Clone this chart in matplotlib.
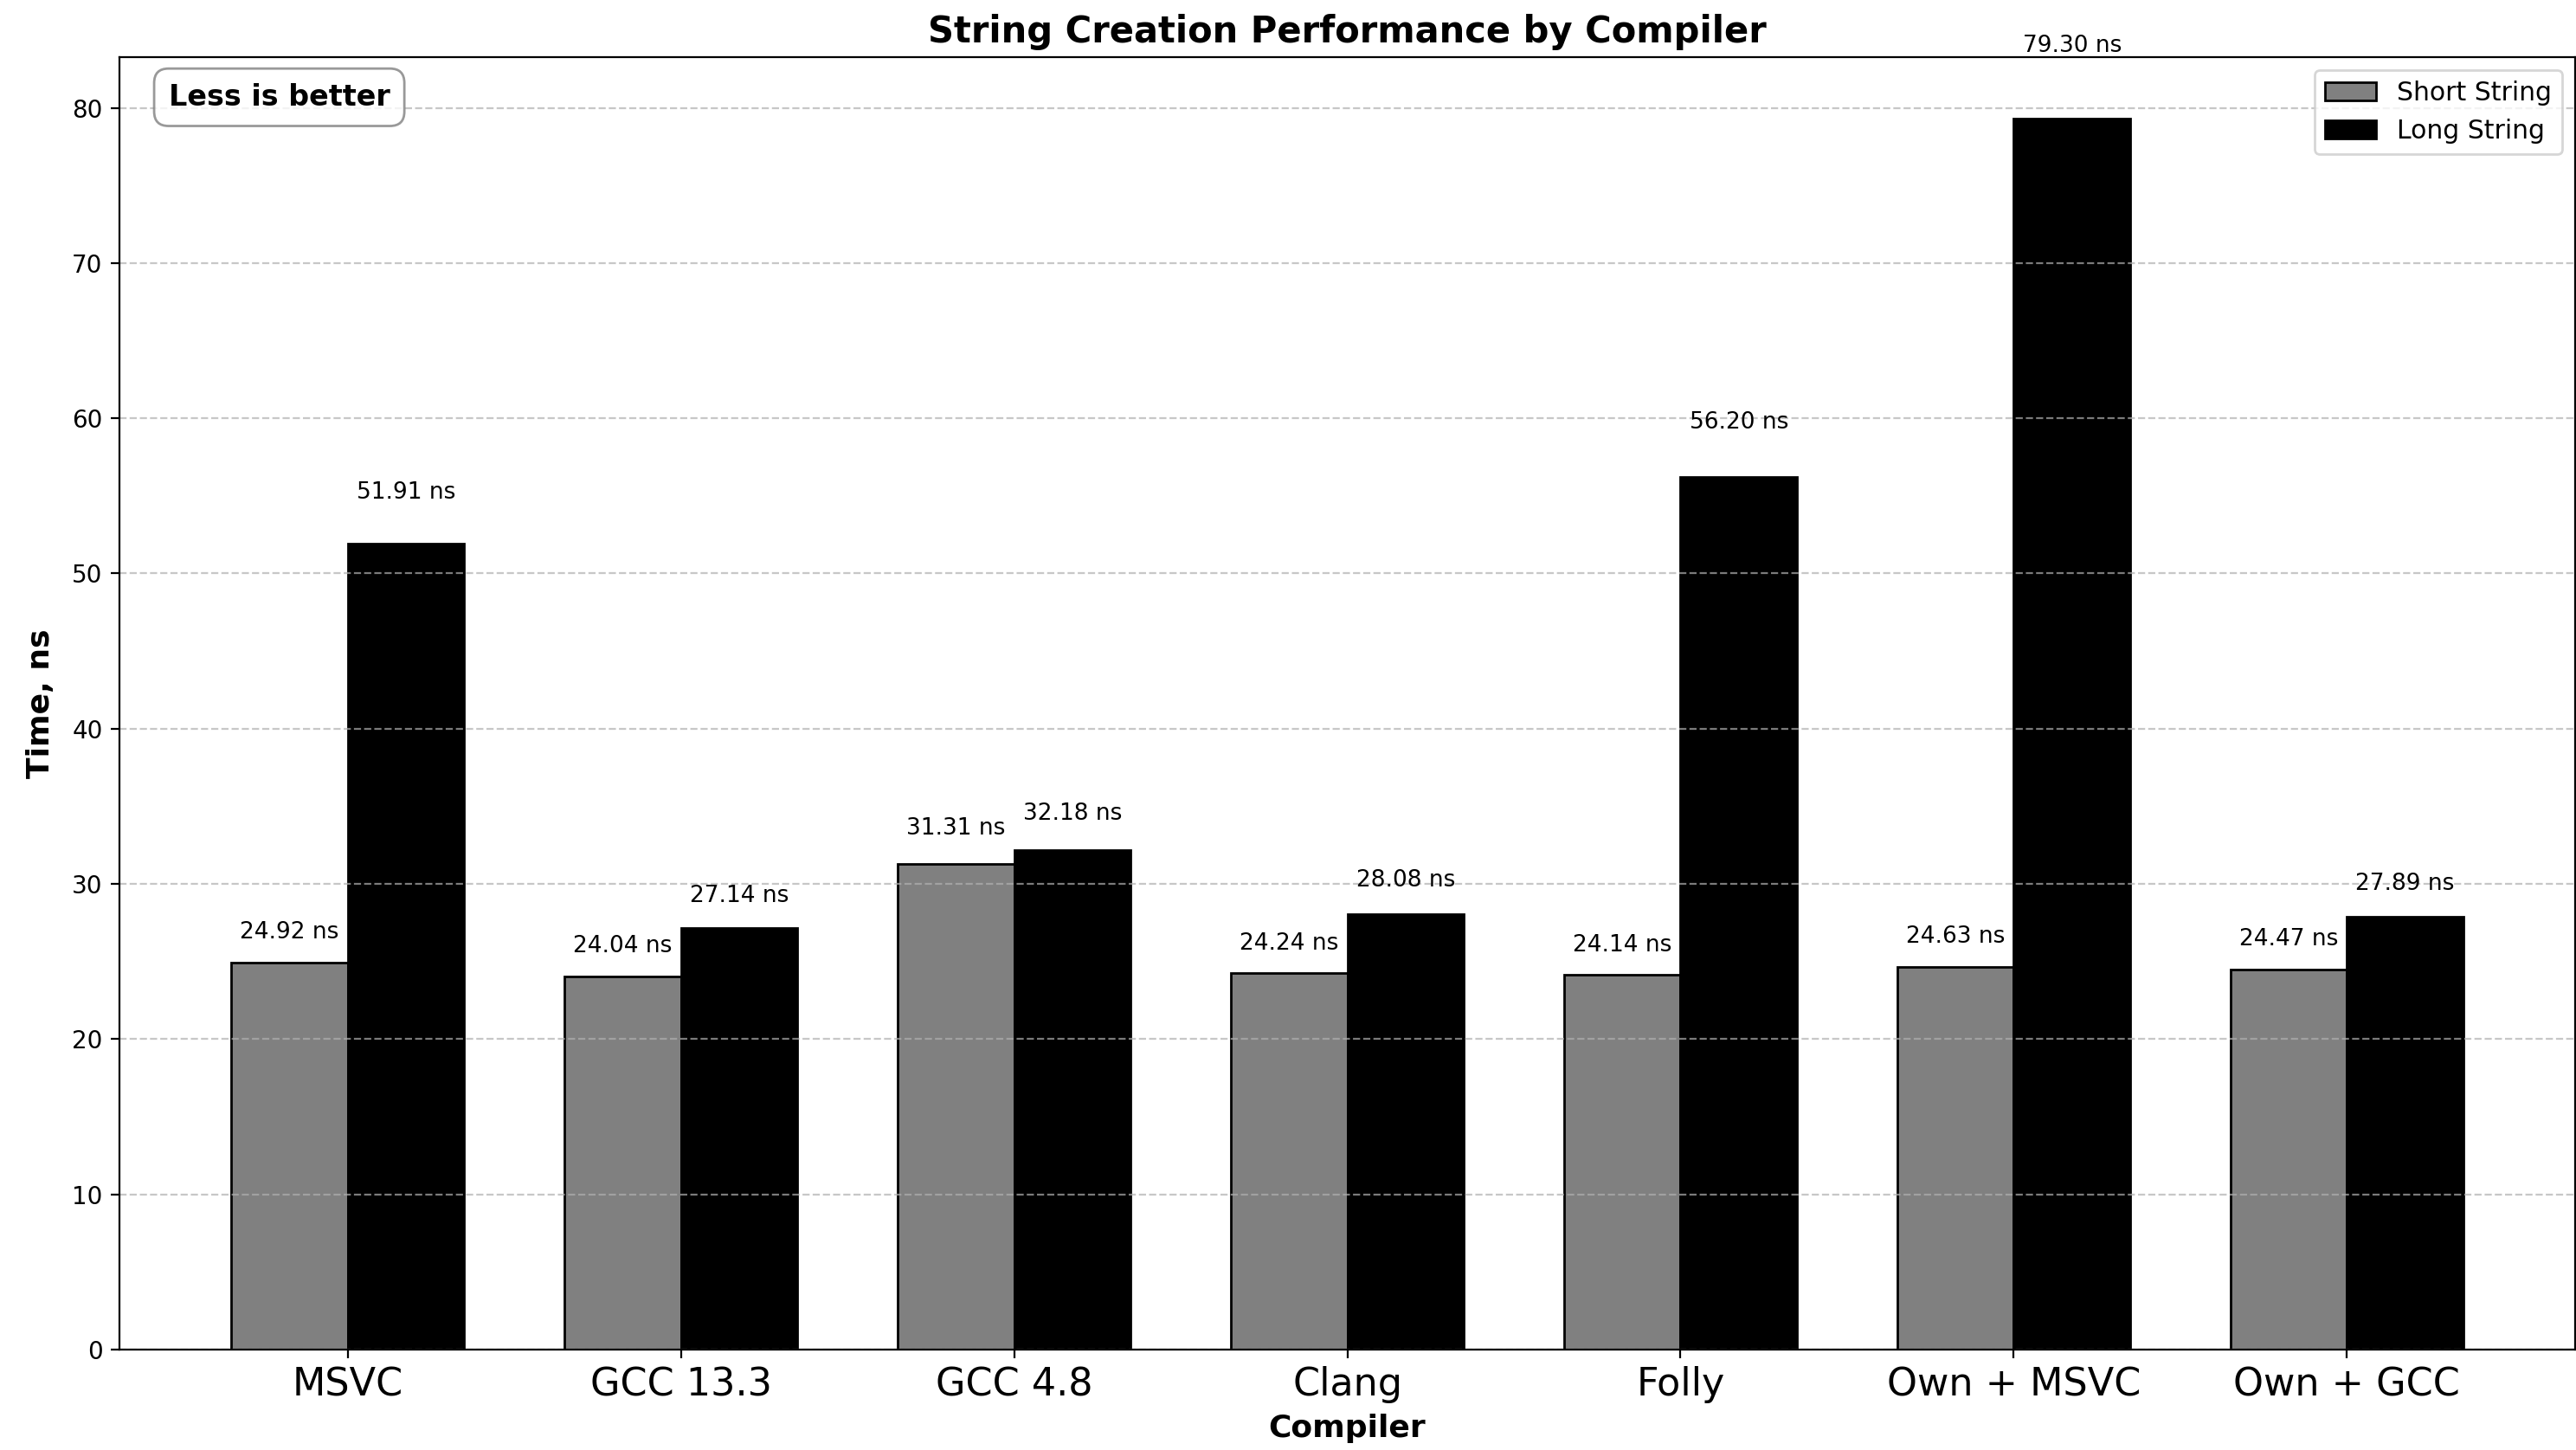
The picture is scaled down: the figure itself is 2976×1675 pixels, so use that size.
import matplotlib
matplotlib.use('Agg')
import matplotlib.pyplot as plt
import numpy as np

compilers = ["MSVC", "GCC 13.3", "GCC 4.8", "Clang", "Folly", "Own + MSVC", "Own + GCC"]
short_times = [24.92, 24.04, 31.31, 24.24, 24.14, 24.63, 24.47]
long_times = [51.91, 27.14, 32.18, 28.08, 56.20, 79.30, 27.89]

W, H = 2976, 1675
fig = plt.figure(figsize=(W / 200, H / 200), dpi=200)
ax = fig.add_axes([138 / W, 1 - 1559 / H, (2975 - 138) / W, (1559 - 66) / H])

x = np.arange(len(compilers))
w = 0.35
b1 = ax.bar(x - w / 2, short_times, w, label='Short String', color='gray', edgecolor='black')
b2 = ax.bar(x + w / 2, long_times, w, label='Long String', color='black', edgecolor='black')

for bars, vals in ((b1, short_times), (b2, long_times)):
    for rect, v in zip(bars, vals):
        ax.text(rect.get_x() + rect.get_width() / 2, v * 1.05, f'{v:.2f} ns',
                ha='center', va='bottom', fontsize=9.5)

ax.set_xticks(x)
ax.set_xticklabels(compilers, fontsize=16)
ax.set_xlabel('Compiler', fontsize=13, fontweight='bold')
ax.set_ylabel('Time, ns', fontsize=13, fontweight='bold', labelpad=7)
ax.set_title('String Creation Performance by Compiler', fontsize=15, fontweight='bold')
ax.yaxis.grid(True, linestyle='--', alpha=0.7)
ax.legend(loc='upper right', fontsize=10.75)
ax.text(0.02, 0.98, 'Less is better', transform=ax.transAxes, fontsize=12,
        fontweight='bold', va='top', ha='left',
        bbox=dict(boxstyle='round,pad=0.5', facecolor='white', edgecolor='gray', alpha=0.8))

fig.savefig('out.png', dpi=200)
